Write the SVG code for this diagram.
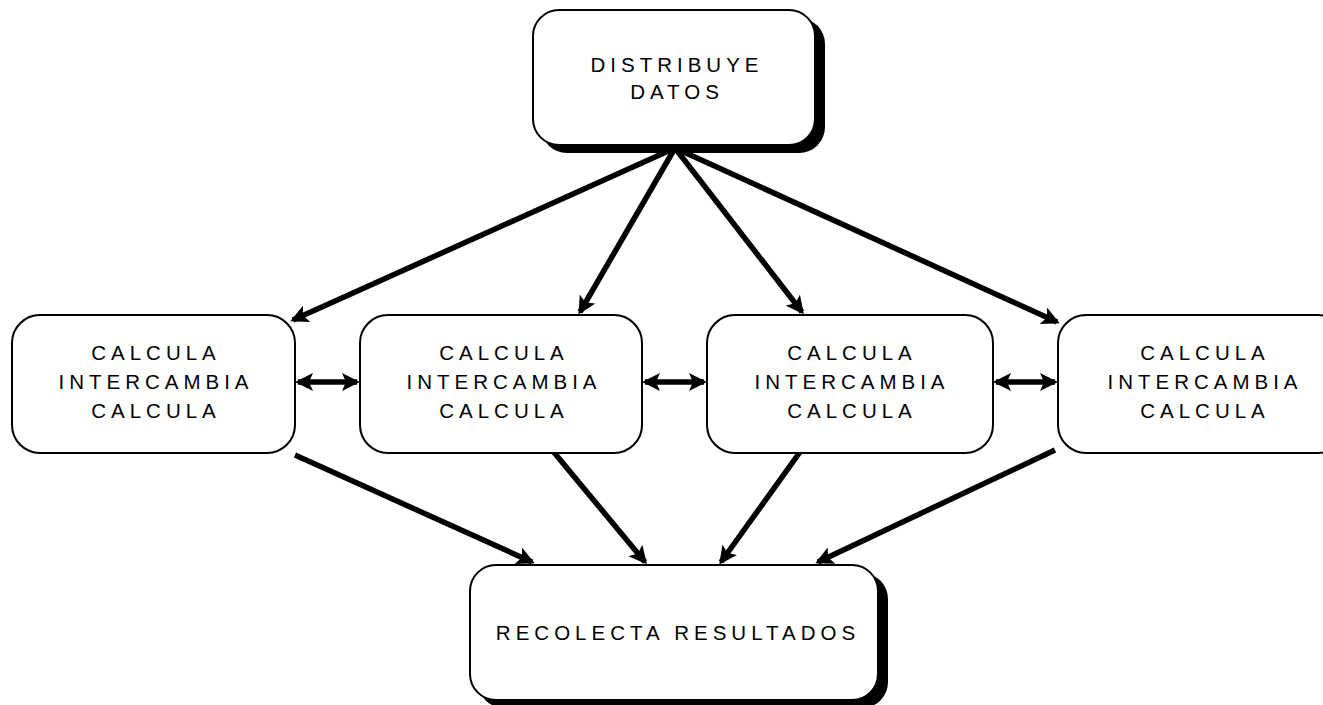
<svg xmlns="http://www.w3.org/2000/svg" width="1323" height="705" viewBox="0 0 1323 705">
  <style>
    .box { fill: #ffffff; stroke: #000000; stroke-width: 2; }
    .shadow { fill: #000000; }
    .lbl { font-family: "Liberation Sans", Arial, sans-serif; font-size: 20.5px; letter-spacing: 5px; fill: #000000; text-anchor: middle; }
    .arrow { stroke: #000000; stroke-width: 5.5; fill: none; marker-end: url(#head); }
    .dbl { stroke: #000000; stroke-width: 5.5; fill: none; marker-start: url(#head); marker-end: url(#head); }
  </style>
  <defs>
    <marker id="head" viewBox="0 0 18 18" refX="15" refY="9" markerWidth="18" markerHeight="18" markerUnits="userSpaceOnUse" orient="auto-start-reverse">
      <path d="M0,0 L18,9 L0,18 L4,9 z" fill="#000000"/>
    </marker>
  </defs>
  <rect width="1323" height="705" fill="#ffffff"/>

  <!-- connectors -->
  <g id="connectors">
    <line class="arrow" x1="675" y1="148" x2="293" y2="320"/>
    <line class="arrow" x1="675" y1="148" x2="580" y2="312"/>
    <line class="arrow" x1="675" y1="148" x2="802" y2="312"/>
    <line class="arrow" x1="675" y1="148" x2="1057" y2="322"/>

    <line class="arrow" x1="295" y1="455" x2="532" y2="562"/>
    <line class="arrow" x1="552" y1="450" x2="645" y2="562"/>
    <line class="arrow" x1="800" y1="452" x2="721" y2="562"/>
    <line class="arrow" x1="1055" y1="450" x2="818" y2="562"/>

    <line class="dbl" x1="298" y1="382" x2="357" y2="382"/>
    <line class="dbl" x1="645" y1="382" x2="704" y2="382"/>
    <line class="dbl" x1="996" y1="382" x2="1055" y2="382"/>
  </g>

  <!-- distribution node -->
  <g id="distribuye">
    <rect class="shadow" x="541" y="18" width="284" height="135" rx="26" ry="26"/>
    <rect class="box" x="533" y="10" width="282" height="135" rx="26" ry="26"/>
    <text class="lbl" x="677" y="72">DISTRIBUYE</text>
    <text class="lbl" x="677" y="99">DATOS</text>
  </g>

  <!-- worker nodes -->
  <g id="worker1">
    <rect class="box" x="12" y="315" width="283" height="138" rx="28" ry="28"/>
    <text class="lbl" x="156" y="360">CALCULA</text>
    <text class="lbl" x="156" y="389">INTERCAMBIA</text>
    <text class="lbl" x="156" y="418">CALCULA</text>
  </g>
  <g id="worker2">
    <rect class="box" x="360" y="315" width="282" height="138" rx="28" ry="28"/>
    <text class="lbl" x="504" y="360">CALCULA</text>
    <text class="lbl" x="504" y="389">INTERCAMBIA</text>
    <text class="lbl" x="504" y="418">CALCULA</text>
  </g>
  <g id="worker3">
    <rect class="box" x="707" y="315" width="286" height="138" rx="28" ry="28"/>
    <text class="lbl" x="852" y="360">CALCULA</text>
    <text class="lbl" x="852" y="389">INTERCAMBIA</text>
    <text class="lbl" x="852" y="418">CALCULA</text>
  </g>
  <g id="worker4">
    <rect class="box" x="1058" y="315" width="288" height="138" rx="28" ry="28"/>
    <text class="lbl" x="1205" y="360">CALCULA</text>
    <text class="lbl" x="1205" y="389">INTERCAMBIA</text>
    <text class="lbl" x="1205" y="418">CALCULA</text>
  </g>

  <!-- collection node -->
  <g id="recolecta">
    <rect class="shadow" x="478" y="573" width="410" height="135" rx="26" ry="26"/>
    <rect class="box" x="470" y="565" width="408" height="135" rx="26" ry="26"/>
    <text class="lbl" x="678" y="640">RECOLECTA RESULTADOS</text>
  </g>
</svg>
